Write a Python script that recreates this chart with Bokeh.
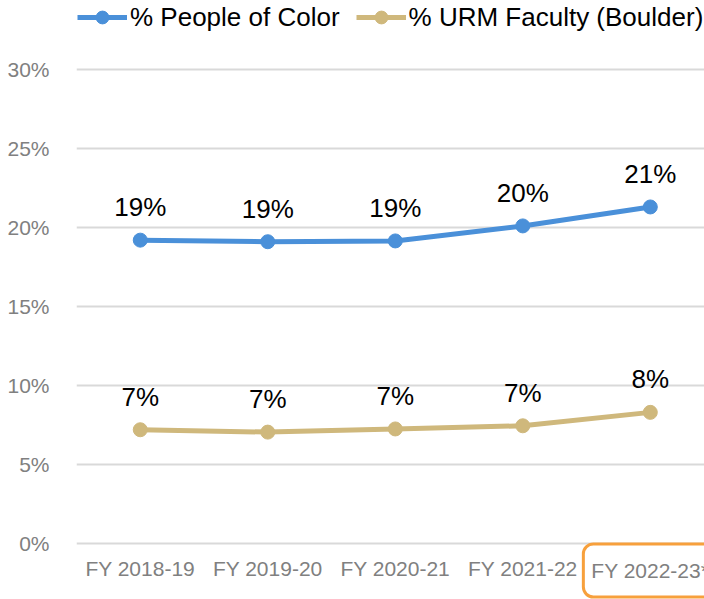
from bokeh.plotting import figure
from bokeh.models import (Range1d, FixedTicker, PrintfTickFormatter, Label,
                          Legend, LegendItem, ColumnDataSource)
from bokeh.core.properties import value
from bokeh.embed import file_html
from bokeh.resources import INLINE

categories = ["FY 2018-19", "FY 2019-20", "FY 2020-21", "FY 2021-22", "FY 2022-23*"]
poc = [19.2, 19.1, 19.15, 20.1, 21.3]
urm = [7.2, 7.05, 7.25, 7.45, 8.3]
y_ticks = [0, 5, 10, 15, 20, 25, 30]
series_names = ["% People of Color", "% URM Faculty (Boulder)"]

BLUE = "#4a90d9"
TAN = "#cfb87c"
FONT = "Liberation Sans"

xs = [i + 0.5 for i in range(len(categories))]

p = figure(width=704, height=599, output_backend="svg", toolbar_location=None,
           x_range=Range1d(0, 4.925), y_range=Range1d(-3.544, 34.367),
           min_border_left=76, min_border_right=0, min_border_top=0,
           min_border_bottom=0)
p.outline_line_color = None
p.background_fill_color = "white"
p.border_fill_color = "white"

# axes
p.xaxis.visible = False
p.yaxis.ticker = FixedTicker(ticks=y_ticks)
p.yaxis.formatter = PrintfTickFormatter(format="%d%%")
p.yaxis.axis_line_color = None
p.yaxis.major_tick_line_color = None
p.yaxis.minor_tick_line_color = None
p.yaxis.major_label_text_font = FONT
p.yaxis.major_label_text_font_size = "21px"
p.yaxis.major_label_text_color = "#808080"
p.yaxis.major_label_standoff = 21

p.xgrid.grid_line_color = None
p.ygrid.grid_line_color = "#d9d9d9"
p.ygrid.grid_line_width = 2

src = ColumnDataSource(dict(x=xs, poc=poc, urm=urm,
                            poc_lbl=[f"{round(v)}%" for v in poc],
                            urm_lbl=[f"{round(v)}%" for v in urm]))

# category labels (x axis)
cat_src = ColumnDataSource(dict(x=xs[:-1], y=[0] * (len(xs) - 1), t=categories[:-1]))
p.text("x", "y", text="t", source=cat_src, y_offset=25, text_align="center",
       text_baseline="middle", text_font=value(FONT), text_font_size="21px",
       text_color="#808080")

l1 = p.line("x", "poc", source=src, line_width=5, color=BLUE)
s1 = p.scatter("x", "poc", source=src, size=14, color=BLUE)
l2 = p.line("x", "urm", source=src, line_width=5, color=TAN)
s2 = p.scatter("x", "urm", source=src, size=14, color=TAN)

for col in ("poc_lbl", "urm_lbl"):
    ycol = col.split("_")[0]
    p.text("x", ycol, text=col, source=src, y_offset=-33, text_align="center",
           text_baseline="middle", text_font=value(FONT), text_font_size="26px",
           text_color="black")

# highlighted last category label
hl = Label(x=xs[-1], y=0, y_offset=-27, text=categories[-1], text_align="center",
           text_baseline="middle", text_font=FONT, text_font_size="21px",
           text_color="#808080", border_line_color="#f7a03c", border_line_width=3,
           border_radius=10, padding=(8, 15), background_fill_color="white")
p.add_layout(hl)

legend = Legend(items=[LegendItem(label=series_names[0], renderers=[l1, s1]),
                       LegendItem(label=series_names[1], renderers=[l2, s2])],
                orientation="horizontal", location="top_left",
                glyph_width=50, glyph_height=32, label_standoff=3, spacing=16,
                padding=0, margin=1, border_line_color=None,
                background_fill_alpha=0, label_text_font=FONT,
                label_text_font_size="26px", label_text_color="black")
p.add_layout(legend)

open("out.html", "w").write(file_html(p, INLINE))
